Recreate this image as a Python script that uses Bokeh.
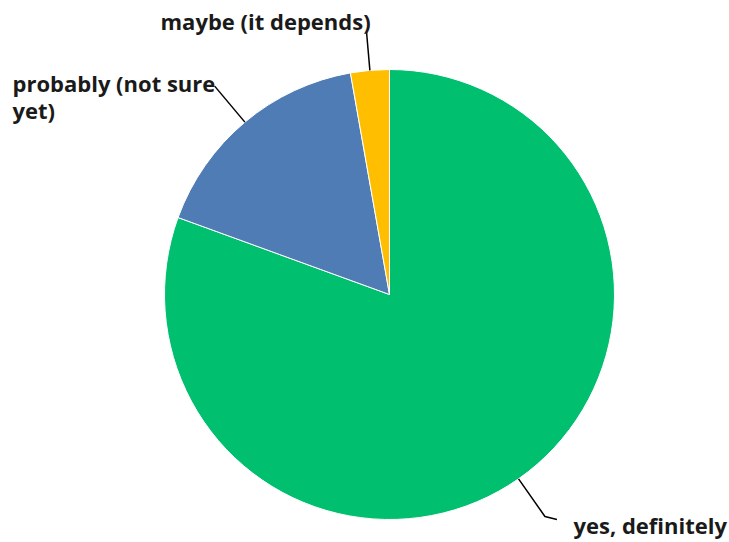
import numpy as np
from bokeh.plotting import figure
from bokeh.models import Range1d
from bokeh.core.properties import value
from bokeh.embed import file_html
from bokeh.resources import INLINE

# data
categories = ["yes, definitely", "probably (not sure yet)", "maybe (it depends)"]
counts = [29, 6, 1]
colors = ["#00BF6F", "#507CB6", "#FFBF00"]

W, H = 729, 542
p = figure(width=W, height=H, output_backend="svg", toolbar_location=None,
           x_range=Range1d(0, W), y_range=Range1d(0, H), min_border=0)
p.axis.visible = False
p.grid.visible = False
p.outline_line_color = None

cx, cy, R = 389, 248, 225
vals = np.array(counts, dtype=float)
frac = vals / vals.sum()
cum = np.concatenate([[0], np.cumsum(frac)])
# clockwise from 12 o'clock
ends = np.pi / 2 - 2 * np.pi * cum[:-1]
starts = np.pi / 2 - 2 * np.pi * cum[1:]
mids = (starts + ends) / 2

p.wedge(x=cx, y=cy, radius=R, start_angle=starts, end_angle=ends,
        fill_color=colors, line_color="white", line_width=1)

# leader lines (radial, then small hook)
lead_len = [46, 47, 39]
hooks = [12, 0, 0]
for m, L, hk in zip(mids, lead_len, hooks):
    x0, y0 = cx + R * np.cos(m), cy + R * np.sin(m)
    x1, y1 = cx + (R + L) * np.cos(m), cy + (R + L) * np.sin(m)
    xs = [x0, x1, x1 + hk]
    ys = [y0, y1, y1 - (3 if hk > 0 else 0)]
    p.line(xs, ys, line_color="black", line_width=1.5)

font = value("Open Sans")
kw = dict(text_font=font, text_font_size="22px", text_font_style="bold",
          text_color="#1a1a1a", text_baseline="middle", text_align="left")
p.text(x=[573], y=[18], text=["yes, definitely"], **kw)
p.text(x=[12, 12], y=[460, 433], text=["probably (not sure", "yet)"], **kw)
p.text(x=[160], y=[522], text=["maybe (it depends)"], **kw)

open("out.html", "w").write(file_html(p, INLINE))
